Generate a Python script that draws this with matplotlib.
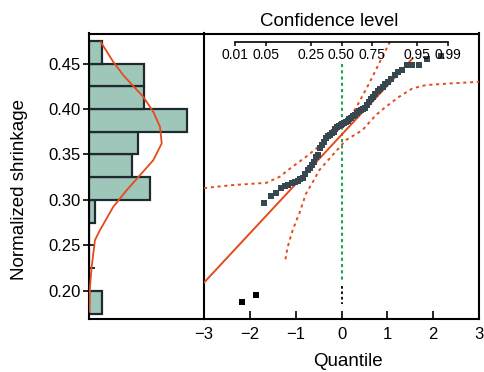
import matplotlib
matplotlib.use("Agg")
import matplotlib.pyplot as plt
from matplotlib.ticker import MultipleLocator, FixedLocator
from statistics import NormalDist

plt.rcParams["font.family"] = ["Liberation Sans", "DejaVu Sans"]

# ---- data ----
shrinkage = [
    0.188, 0.1957, 0.2961, 0.3042, 0.3071, 0.313, 0.3152, 0.3163, 0.3181, 0.3192,
    0.3207, 0.3225, 0.3245, 0.3283, 0.3327, 0.3349, 0.3382, 0.3415, 0.347, 0.3495,
    0.3569, 0.3602, 0.3641, 0.3679, 0.3701, 0.3718, 0.374, 0.3746, 0.3783, 0.38,
    0.3811, 0.3822, 0.3833, 0.3849, 0.386, 0.3871, 0.3888, 0.3904, 0.3921, 0.3937,
    0.3959, 0.3981, 0.3992, 0.3997, 0.4014, 0.4042, 0.4075, 0.4108, 0.4135, 0.4163,
    0.4201, 0.4223, 0.424, 0.4273, 0.4294, 0.4333, 0.4371, 0.4404, 0.4426, 0.4481,
    0.4485, 0.4489, 0.4547, 0.458,
]
n_low_outliers = 2
bin_edges = [0.175, 0.2, 0.225, 0.25, 0.275, 0.3, 0.325, 0.35, 0.375, 0.4, 0.425, 0.45, 0.475]

density_count = [1.87, 3.93, 5.57, 8.85, 10.49, 11.59, 11.87, 10.49, 8.31, 6.13,
                 3.93, 1.75, 0.93, 0.39, 0.11, 0.0]
density_value = [0.4737, 0.4518, 0.4371, 0.4133, 0.3968, 0.3803, 0.3621, 0.3437, 0.3272,
                 0.3107, 0.2924, 0.2668, 0.2558, 0.2265, 0.2045, 0.177]

fit_q = [-3.0, 1.54]
fit_v = [0.209, 0.455]

upper_q = [-3.0, -2.37, -1.64, -1.35, -1.14, -0.774, -0.413, -0.122, 0.096, 0.313, 0.602, 0.891, 1.074]
upper_v = [0.313, 0.3163, 0.3188, 0.3254, 0.3338, 0.3474, 0.3621, 0.3748, 0.3858, 0.4009, 0.428, 0.4573, 0.4756]

lower_q = [-1.224, -1.174, -1.065, -0.92, -0.774, -0.6, -0.485, -0.196, 0.096, 0.457, 0.748,
           0.965, 1.254, 1.543, 1.835, 2.341, 3.0]
lower_v = [0.2346, 0.2484, 0.2668, 0.2852, 0.307, 0.322, 0.3327, 0.3492, 0.3657, 0.3767, 0.3932,
           0.4023, 0.4133, 0.4225, 0.4262, 0.428, 0.4298]

median_green_v = [0.450, 0.210]
median_black_v = [0.205, 0.186]

prob_levels = [0.01, 0.05, 0.25, 0.50, 0.75, 0.95, 0.99]
prob_labels = ["0.01", "0.05", "0.25", "0.50", "0.75", "0.95", "0.99"]
y_ticks = [0.20, 0.25, 0.30, 0.35, 0.40, 0.45]
x_ticks = [-3, -2, -1, 0, 1, 2, 3]

# ---- styling ----
ORANGE = "#e64a19"
POINT = "#37474f"
GREEN = "#19a84e"
FILL = "#9ec7ba"
EDGE = "#1f2a30"

W, H = 484, 372
fig = plt.figure(figsize=(W / 100, H / 100), dpi=100)

left_px, mid_px, right_px = 89.3, 204.0, 479.0
top_px, bot_px = 33.5, 319.0
fb = 1 - bot_px / H
fh = (bot_px - top_px) / H

ax_h = fig.add_axes([left_px / W, fb, (mid_px - left_px) / W, fh])
ax_q = fig.add_axes([mid_px / W, fb, (right_px - mid_px) / W, fh])

ylim = (0.169, 0.483)

# histogram
ax_h.hist(shrinkage, bins=bin_edges, orientation="horizontal",
          color=FILL, edgecolor=EDGE, linewidth=1.6, zorder=2)
ax_h.plot(density_count, density_value, color=ORANGE, lw=1.3, zorder=3)
ax_h.set_xlim(0, 18.8)
ax_h.set_ylim(*ylim)
ax_h.set_xticks([])
ax_h.set_yticks(y_ticks)
ax_h.set_yticklabels([f"{v:.2f}" for v in y_ticks])
ax_h.yaxis.set_minor_locator(MultipleLocator(0.025))
ax_h.tick_params(axis="y", which="major", direction="inout", length=8, width=1.2,
                 pad=2, labelsize=12)
ax_h.tick_params(axis="y", which="minor", direction="in", length=4.5, width=1.2)
ax_h.spines["right"].set_visible(False)
for s in ["left", "top", "bottom"]:
    ax_h.spines[s].set_linewidth(1.5)

# QQ plot
nd = NormalDist()
n = len(shrinkage)
data_sorted = sorted(shrinkage)
quant = [nd.inv_cdf((i + 1) / (n + 1)) for i in range(n)]

ax_q.plot(fit_q, fit_v, color=ORANGE, lw=1.4, zorder=3)
ax_q.plot(upper_q, upper_v, color=ORANGE, lw=1.4, ls=(0, (1.6, 1.9)), zorder=3)
ax_q.plot(lower_q, lower_v, color=ORANGE, lw=1.4, ls=(0, (1.6, 1.9)), zorder=3)
ax_q.plot([0, 0], median_green_v, color=GREEN, lw=1.5, ls=(0, (1.5, 1.5)), zorder=1)
ax_q.plot([0, 0], median_black_v, color="black", lw=1.3, ls=(0, (1.5, 1.5)), zorder=1)
ax_q.scatter(quant[n_low_outliers:], data_sorted[n_low_outliers:], marker="s", s=18,
             color=POINT, linewidths=0, zorder=4)
ax_q.scatter(quant[:n_low_outliers], data_sorted[:n_low_outliers], marker="s", s=18,
             color="black", linewidths=0, zorder=4)

ax_q.set_xlim(-3, 3)
ax_q.set_ylim(*ylim)
ax_q.set_yticks([])
ax_q.set_xticks(x_ticks)
ax_q.set_xticklabels(["\u22123", "\u22122", "\u22121", "0", "1", "2", "3"])
ax_q.tick_params(axis="x", direction="in", length=5.5, width=1.2, pad=6, labelsize=12)
for s in ax_q.spines.values():
    s.set_linewidth(1.5)

# probability (confidence level) axis inside the top of the QQ plot
prob_y_px = 41.7
ax_p = fig.add_axes([mid_px / W, 1 - prob_y_px / H, (right_px - mid_px) / W, 1e-6])
ax_p.set_xlim(-3, 3)
ax_p.patch.set_visible(False)
for s in ["left", "right", "top"]:
    ax_p.spines[s].set_visible(False)
ppos = [nd.inv_cdf(p) for p in prob_levels]
ax_p.spines["bottom"].set_bounds(ppos[0], ppos[-1])
ax_p.spines["bottom"].set_linewidth(1.2)
ax_p.set_yticks([])
ax_p.xaxis.set_major_locator(FixedLocator(ppos))
ax_p.set_xticklabels(prob_labels)
ax_p.tick_params(axis="x", direction="out", length=3, width=1.1, pad=1.5, labelsize=10)

fig.text(329.3 / W, 1 - 22 / H, "Confidence level", ha="center", va="center", fontsize=13.5)
fig.text(347.7 / W, 1 - 362 / H, "Quantile", ha="center", va="center", fontsize=13.5)
fig.text(20 / W, 1 - 190 / H, "Normalized shrinkage", ha="center", va="center",
         rotation=90, fontsize=13.5)

fig.savefig("out.png", dpi=100)
